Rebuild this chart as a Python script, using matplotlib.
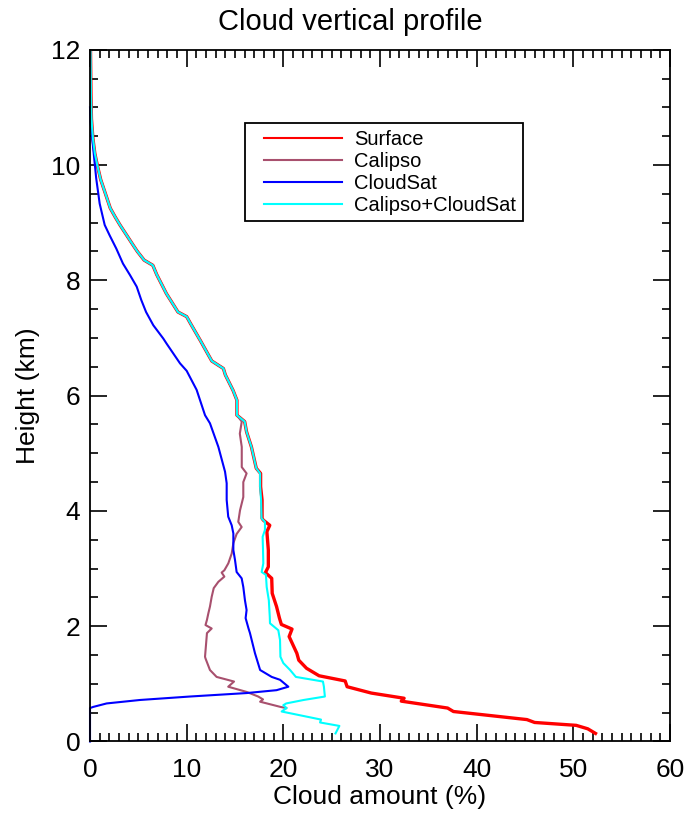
import matplotlib
matplotlib.use("Agg")
import matplotlib.pyplot as plt
from matplotlib.legend_handler import HandlerLine2D
from matplotlib.ticker import MultipleLocator

plt.rcParams["font.family"] = ["Liberation Sans", "DejaVu Sans"]

# shared upper part of the profile (Surface, Calipso and Calipso+CloudSat overlap)
upper_height = [12.0, 11.2, 10.8, 10.46, 10.2, 10.0, 9.75, 9.5, 9.25, 9.1, 8.96, 8.78,
                8.6, 8.5, 8.35, 8.26, 8.1, 7.77, 7.45, 7.37, 7.25, 6.96, 6.6, 6.47,
                6.36, 6.09, 5.92, 5.66]
upper_amount = [0.05, 0.1, 0.15, 0.3, 0.5, 0.75, 1.1, 1.6, 2.1, 2.6, 3.1, 3.8,
                4.5, 4.9, 5.6, 6.5, 6.9, 7.9, 9.1, 10.0, 10.4, 11.4, 12.6, 13.8,
                14.0, 14.8, 15.2, 15.2]

surface_height = [5.55, 5.37, 5.11, 4.74, 4.65, 4.42, 4.19, 3.87, 3.84, 3.75, 3.64, 3.32,
                  3.03, 2.93, 2.83, 2.57, 2.34, 2.14, 2.03, 1.95, 1.82, 1.53, 1.41, 1.27,
                  1.14, 1.05, 0.95, 0.84, 0.75, 0.70, 0.58, 0.52, 0.38, 0.33, 0.28, 0.22,
                  0.14]
surface_amount = [16.0, 16.2, 16.7, 17.2, 17.65, 17.65, 17.8, 17.8, 17.93, 18.6, 18.3, 18.45,
                  18.45, 18.15, 18.8, 18.85, 19.3, 19.6, 19.8, 20.9, 20.6, 21.4, 21.6, 22.4,
                  23.7, 26.4, 26.6, 29.1, 32.5, 32.2, 37.0, 37.6, 45.2, 46.0, 50.3, 51.5,
                  52.3]

calipso_height = [5.55, 5.34, 5.11, 4.76, 4.65, 4.50, 4.24, 4.01, 3.81, 3.72, 3.60, 3.44,
                  3.26, 3.09, 2.97, 2.93, 2.86, 2.77, 2.66, 2.51, 2.34, 2.22, 2.11, 2.02,
                  1.96, 1.88, 1.47, 1.44, 1.24, 1.12, 1.04, 0.95, 0.86, 0.78, 0.73, 0.69,
                  0.60, 0.58]
calipso_amount = [15.7, 15.5, 15.7, 15.7, 16.2, 15.86, 15.86, 15.52, 15.34, 15.69, 15.17, 14.83,
                  14.66, 14.31, 13.9, 13.62, 13.9, 13.28, 12.8, 12.59, 12.41, 12.24, 12.1, 11.95,
                  12.59, 12.1, 11.9, 11.95, 12.41, 13.1, 14.9, 14.3, 16.2, 17.4, 17.9, 17.6,
                  19.7, 20.3]

cloudsat_height = [11.0, 10.75, 10.34, 9.77, 9.33, 8.96, 8.78, 8.55, 8.29, 8.09, 7.89, 7.66,
                   7.45, 7.22, 6.99, 6.90, 6.56, 6.43, 6.10, 5.66, 5.52, 5.11, 4.68, 4.48,
                   4.19, 3.90, 3.75, 3.61, 3.32, 3.15, 2.94, 2.83, 2.68, 2.45, 2.28, 2.14,
                   1.96, 1.88, 1.53, 1.24, 1.12, 1.07, 0.95, 0.89, 0.84, 0.78, 0.72, 0.66,
                   0.60, 0.58, 0.0]
cloudsat_amount = [0.0, 0.05, 0.3, 0.64, 1.0, 1.52, 2.03, 2.72, 3.41, 4.14, 4.83, 5.3,
                   5.8, 6.55, 7.58, 7.93, 9.31, 10.0, 11.03, 11.9, 12.41, 13.28, 13.97, 14.14,
                   14.14, 14.3, 14.66, 14.83, 14.83, 15.0, 15.17, 15.69, 15.86, 16.03, 16.2, 16.1,
                   16.4, 16.55, 17.07, 17.6, 18.8, 19.66, 20.52, 19.3, 16.2, 10.34, 5.17, 1.72,
                   0.34, 0.0, 0.0]

combined_height = [5.55, 5.37, 5.11, 4.74, 4.65, 4.42, 4.19, 3.87, 3.81, 3.67, 3.55, 3.32,
                   3.09, 2.94, 2.89, 2.68, 2.45, 2.16, 2.05, 1.93, 1.76, 1.47, 1.36, 1.24,
                   1.12, 1.04, 0.95, 0.78, 0.72, 0.66, 0.63, 0.58, 0.52, 0.38, 0.33, 0.27,
                   0.14]
combined_amount = [16.0, 16.2, 16.7, 17.2, 17.6, 17.6, 17.7, 17.75, 18.1, 18.1, 17.86, 17.9,
                   17.93, 17.76, 18.2, 18.28, 18.5, 18.6, 18.62, 19.48, 19.66, 19.7, 20.0, 20.7,
                   21.3, 24.1, 24.2, 24.3, 22.1, 20.3, 20.0, 20.34, 19.83, 23.9, 23.8, 25.8,
                   25.4]

fig = plt.figure(figsize=(6.85, 8.15), dpi=100)
ax = fig.add_axes([0.1314, 0.0902, 0.8466, 0.8488])

ax.plot(upper_amount + surface_amount, upper_height + surface_height,
        color="#ff0000", lw=2.4, label="Surface")
ax.plot(upper_amount + calipso_amount, upper_height + calipso_height,
        color="#a8506e", lw=1.5, label="Calipso")
ax.plot(cloudsat_amount, cloudsat_height, color="#0000ff", lw=1.5,
        label="CloudSat", clip_on=False)
ax.plot(upper_amount + combined_amount, upper_height + combined_height,
        color="#00ffff", lw=1.5, label="Calipso+CloudSat")

ax.set_xlim(0, 60)
ax.set_ylim(0, 12)
ax.xaxis.set_major_locator(MultipleLocator(10))
ax.xaxis.set_minor_locator(MultipleLocator(1))
ax.yaxis.set_major_locator(MultipleLocator(2))
ax.yaxis.set_minor_locator(MultipleLocator(0.5))
ax.tick_params(which="both", direction="in", top=True, right=True, width=1.2,
               labelsize=19)
ax.tick_params(axis="x", pad=12)
ax.tick_params(axis="y", pad=7)
ax.tick_params(which="major", length=12)
ax.tick_params(which="minor", length=6)
for spine in ax.spines.values():
    spine.set_linewidth(1.3)

ax.set_xlabel("Cloud amount (%)", fontsize=19, labelpad=2)
ax.set_ylabel("Height (km)", fontsize=19, labelpad=8)
fig.suptitle("Cloud vertical profile", fontsize=21, x=0.512, y=0.99, va="top")

leg = ax.legend(loc="upper left", bbox_to_anchor=(0.267, 0.894), borderaxespad=0,
                fontsize=14.5, handlelength=4.5, handletextpad=0.6, labelspacing=0.15,
                borderpad=0.33, fancybox=False, framealpha=1, edgecolor="black",
                handler_map={plt.Line2D: HandlerLine2D(xpad=0.6)})
leg.get_frame().set_linewidth(1.3)
for handle in leg.get_lines():
    handle.set_linewidth(1.5)

fig.savefig("out.png", dpi=100)
